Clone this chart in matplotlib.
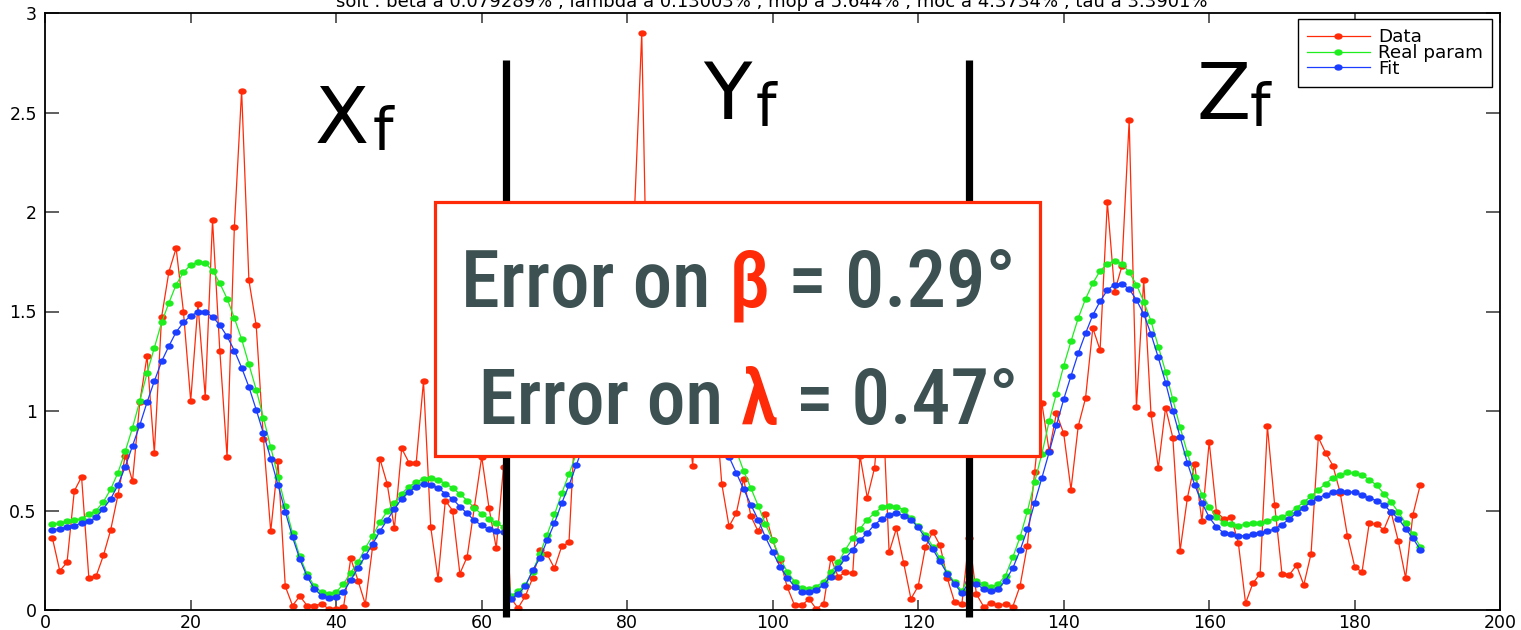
import os
import numpy as np
import matplotlib
matplotlib.use("Agg")
import matplotlib.pyplot as plt
from matplotlib.path import Path
from matplotlib.transforms import Affine2D
from matplotlib.patches import Rectangle
from matplotlib import font_manager
from matplotlib.font_manager import FontProperties

# ---------------------------------------------------------------- data
sample_index = np.arange(1, 190)

data_vals = [
    # X_f block (1-63)
    0.36, 0.197, 0.239, 0.598, 0.669, 0.161, 0.17, 0.274, 0.402, 0.578,
    0.776, 0.647, 1.044, 1.276, 0.79, 1.472, 1.699, 1.818, 1.50, 1.05,
    1.536, 1.07, 1.96, 1.304, 0.768, 1.924, 2.61, 1.657, 1.432, 0.86,
    0.395, 0.748, 0.119, 0.022, 0.07, 0.022, 0.022, 0.03, 0.005, 0.005,
    0.013, 0.259, 0.148, 0.029, 0.316, 0.761, 0.635, 0.41, 0.812, 0.741,
    0.741, 1.15, 0.415, 0.156, 0.55, 0.50, 0.183, 0.267, 0.52, 0.77,
    0.514, 0.311, 0.72,
    # Y_f block (64-126)
    0.06, 0.01, 0.07, 0.16, 0.30, 0.28, 0.21, 0.32, 0.34, 1.05,
    0.95, 1.25, 0.9, 1.45, 1.3, 1.85, 1.35, 2.0, 2.9, 1.0,
    1.6, 1.9, 1.2, 1.75, 1.1, 0.725, 1.4, 0.95, 1.1, 0.634,
    0.42, 0.487, 0.66, 0.472, 0.395, 0.48, 0.35, 0.25, 0.115, 0.024,
    0.024, 0.055, 0.005, 0.032, 0.26, 0.167, 0.189, 0.184, 0.775, 0.564,
    0.714, 1.15, 0.289, 0.41, 0.237, 0.056, 0.12, 0.317, 0.393, 0.325,
    0.16, 0.04, 0.03,
    # Z_f block (127-189)
    0.36, 0.08, 0.017, 0.034, 0.024, 0.029, 0.017, 0.121, 0.324, 0.692,
    1.04, 0.798, 0.988, 0.887, 0.605, 0.924, 1.064, 1.417, 1.306, 2.05,
    1.6, 1.728, 2.46, 1.02, 1.66, 0.986, 0.713, 1.017, 0.866, 0.298,
    0.563, 0.734, 0.445, 0.845, 0.492, 0.459, 0.466, 0.339, 0.034, 0.134,
    0.183, 0.923, 0.528, 0.183, 0.176, 0.225, 0.126, 0.282, 0.867, 0.79,
    0.726, 0.59, 0.373, 0.218, 0.19, 0.437, 0.43, 0.403, 0.492, 0.345,
    0.161, 0.479, 0.627,
]

real_vals = [
    0.43, 0.435, 0.445, 0.452, 0.459, 0.48, 0.50, 0.543, 0.607, 0.69,
    0.797, 0.916, 1.05, 1.19, 1.318, 1.445, 1.543, 1.635, 1.697, 1.734,
    1.748, 1.743, 1.706, 1.642, 1.565, 1.467, 1.361, 1.234, 1.108, 0.966,
    0.818, 0.669, 0.523, 0.387, 0.269, 0.18, 0.12, 0.09, 0.082, 0.09,
    0.131, 0.188, 0.24, 0.311, 0.373, 0.44, 0.496, 0.54, 0.585, 0.62,
    0.643, 0.66, 0.664, 0.655, 0.635, 0.614, 0.583, 0.55, 0.513, 0.481,
    0.459, 0.437, 0.417,
    0.07, 0.095, 0.126, 0.193, 0.282, 0.379, 0.48, 0.586, 0.684, 0.785,
    0.89, 1.0, 1.11, 1.22, 1.33, 1.43, 1.52, 1.6, 1.67, 1.72,
    1.75, 1.75, 1.72, 1.67, 1.59, 1.49, 1.38, 1.26, 1.13, 1.0,
    0.88, 0.80, 0.70, 0.613, 0.524, 0.432, 0.35, 0.261, 0.193, 0.143,
    0.109, 0.104, 0.118, 0.143, 0.19, 0.239, 0.303, 0.361, 0.408, 0.454,
    0.487, 0.516, 0.524, 0.518, 0.504, 0.462, 0.42, 0.378, 0.319, 0.26,
    0.188, 0.14, 0.095,
    0.17, 0.145, 0.13, 0.115, 0.13, 0.173, 0.265, 0.366, 0.495, 0.642,
    0.785, 0.948, 1.087, 1.227, 1.35, 1.467, 1.563, 1.642, 1.704, 1.739,
    1.756, 1.739, 1.697, 1.635, 1.55, 1.452, 1.324, 1.198, 1.059, 0.919,
    0.79, 0.667, 0.58, 0.52, 0.466, 0.437, 0.432, 0.424, 0.43, 0.437,
    0.437, 0.445, 0.46, 0.466, 0.487, 0.513, 0.543, 0.571, 0.605, 0.634,
    0.664, 0.677, 0.691, 0.686, 0.677, 0.655, 0.627, 0.585, 0.543, 0.492,
    0.437, 0.382, 0.319,
]

fit_vals = [
    0.402, 0.408, 0.417, 0.424, 0.437, 0.445, 0.465, 0.509, 0.558, 0.628,
    0.719, 0.825, 0.929, 1.044, 1.15, 1.249, 1.326, 1.397, 1.445, 1.479,
    1.496, 1.496, 1.474, 1.432, 1.375, 1.304, 1.218, 1.121, 1.007, 0.887,
    0.761, 0.628, 0.494, 0.366, 0.255, 0.168, 0.106, 0.072, 0.062, 0.067,
    0.09, 0.15, 0.21, 0.27, 0.331, 0.395, 0.452, 0.507, 0.56, 0.592,
    0.62, 0.635, 0.63, 0.613, 0.585, 0.558, 0.52, 0.485, 0.45, 0.425,
    0.405, 0.395, 0.39,
    0.055, 0.079, 0.12, 0.2, 0.26, 0.35, 0.436, 0.537, 0.627, 0.728,
    0.83, 0.93, 1.03, 1.13, 1.22, 1.30, 1.37, 1.43, 1.47, 1.49,
    1.49, 1.47, 1.43, 1.37, 1.30, 1.21, 1.12, 1.02, 0.93, 0.85,
    0.771, 0.689, 0.608, 0.529, 0.454, 0.366, 0.291, 0.218, 0.163, 0.118,
    0.092, 0.092, 0.10, 0.126, 0.168, 0.21, 0.261, 0.303, 0.35, 0.387,
    0.429, 0.457, 0.479, 0.487, 0.474, 0.454, 0.415, 0.361, 0.306, 0.244,
    0.182, 0.131, 0.084,
    0.14, 0.13, 0.105, 0.095, 0.105, 0.148, 0.21, 0.3, 0.405, 0.538,
    0.664, 0.793, 0.929, 1.059, 1.176, 1.29, 1.39, 1.482, 1.551, 1.608,
    1.635, 1.639, 1.613, 1.558, 1.487, 1.387, 1.269, 1.143, 1.0, 0.869,
    0.739, 0.629, 0.538, 0.466, 0.417, 0.387, 0.382, 0.373, 0.373, 0.382,
    0.388, 0.395, 0.408, 0.429, 0.457, 0.487, 0.514, 0.543, 0.563, 0.58,
    0.592, 0.597, 0.593, 0.593, 0.576, 0.563, 0.55, 0.529, 0.492, 0.459,
    0.408, 0.361, 0.303,
]

series_labels = ["Data", "Real param", "Fit"]
x_ticks = [0, 20, 40, 60, 80, 100, 120, 140, 160, 180, 200]
y_ticks = [0, 0.5, 1, 1.5, 2, 2.5, 3]
y_tick_labels = ["0", "0.5", "1", "1.5", "2", "2.5", "3"]
block_separators = [63.4, 127.0]
block_names = ["X", "Y", "Z"]
title_text = ("soit : beta à 0.079289% , lambda à 0.13003% , mop à 5.644% , "
              "moc à 4.3734% , tau à 3.3901%")
error_lines = [("Error on ", "β", " = 0.29°"), (" Error on ", "λ", " = 0.47°")]

# ---------------------------------------------------------------- style
RED = "#ff2a08"
GREEN = "#1eee1e"
BLUE = "#1a3dff"
TEXT_GRAY = "#3d5152"
W, H = 1521, 630

plt.rcParams["font.family"] = ["DejaVu Sans"]

fig = plt.figure(figsize=(W / 100, H / 100), dpi=100)
ax = fig.add_axes([45.2 / W, 20 / H, 1455 / W, 597 / H])
ax.set_xlim(0, 200)
ax.set_ylim(0, 3)

# slightly wide dots, like a horizontally stretched figure
dot = Path.unit_circle().transformed(Affine2D().scale(1.4, 1.0))

style = dict(lw=0.9, marker=dot, ms=5.0)
h_data, = ax.plot(sample_index, data_vals, color=RED, mfc=RED, mec=RED, zorder=2, **style)
h_real, = ax.plot(sample_index, real_vals, color=GREEN, mfc=GREEN, mec=GREEN, zorder=2.1, **style)
h_fit, = ax.plot(sample_index, fit_vals, color=BLUE, mfc=BLUE, mec=BLUE, zorder=2.2, **style)

# thick separators between the three blocks
for xs in block_separators:
    ax.plot([xs, xs], [-0.035, 2.764], color="black", lw=5.2,
            solid_capstyle="butt", clip_on=False, zorder=4)

ax.set_xticks(x_ticks)
ax.set_yticks(y_ticks)
ax.set_yticklabels(y_tick_labels)
ax.tick_params(axis="both", direction="in", top=True, right=True,
               labelsize=12.5, width=1.1, color="#333333")
ax.tick_params(axis="x", length=7, pad=3)
ax.tick_params(axis="y", length=10, pad=6)
for sp in ax.spines.values():
    sp.set_linewidth(1.3)

leg = ax.legend([h_data, h_real, h_fit], series_labels, loc="upper right",
                bbox_to_anchor=(1492 / W, 1 - 19 / H), bbox_transform=fig.transFigure,
                borderaxespad=0, fancybox=False, edgecolor="black", framealpha=1,
                fontsize=13.2, handlelength=3.4, handletextpad=0.45,
                labelspacing=-0.12, borderpad=0.5)
leg.get_frame().set_linewidth(1.0)
leg.set_zorder(7)

fig.text(772 / W, 1 - 7 / H, title_text, ha="center", va="baseline", fontsize=13)

# block names with subscript f
name_font = ["DejaVu Sans"]
name_pos = [(37.1, 2.347, 45.0, 2.317), (90.4, 2.467, 97.6, 2.437), (158.3, 2.467, 165.5, 2.437)]
for name, (xx, yy, xf, yf) in zip(block_names, name_pos):
    ax.text(xx, yy, name, fontsize=57, family=name_font, va="baseline",
            ha="left", color="black", zorder=6)
    ax.text(xf, yf, "f", fontsize=42, family=name_font, va="baseline",
            ha="left", color="black", zorder=6)

# framed error summary
ax.add_patch(Rectangle((53.58, 0.774), 136.74 - 53.58, 2.048 - 0.774,
                       facecolor="white", edgecolor=RED, lw=2.3, zorder=5))

# pick a condensed face for the summary text
preferred = ["NotoSans-ExtraCondensedSemiBold", "NotoSans-ExtraCondensedMedium",
             "NotoSans-CondensedSemiBold", "NotoSans-CondensedMedium",
             "RobotoCondensed-Medium", "RobotoCondensed-SemiBold",
             "RobotoCondensed-Regular", "RobotoCondensed-Bold",
             "LiberationSansNarrow-Bold", "DejaVuSansCondensed-Bold"]
files = {os.path.splitext(os.path.basename(f.fname))[0]: f.fname
         for f in font_manager.fontManager.ttflist}
box_fp = None
for name in preferred:
    if name in files:
        box_fp = FontProperties(fname=files[name])
        break
if box_fp is None:
    box_fp = FontProperties(family="DejaVu Sans", weight="bold")


def error_line(x0, y0, parts, size):
    fp = box_fp.copy()
    fp.set_size(size)
    pieces = [ax.text(x0, y0, parts[0], fontproperties=fp, color=TEXT_GRAY,
                      va="baseline", ha="left", zorder=6)]
    for txt, col in ((parts[1], RED), (parts[2], TEXT_GRAY)):
        pieces.append(ax.annotate(txt, xy=(1, 0), xycoords=pieces[-1], va="bottom",
                                  ha="left", fontproperties=fp, color=col, zorder=6))
    return pieces


line_specs = [((461 - 45.2) / 7.275, 1.523, 554), ((461 - 45.2) / 7.275, 0.935, 557)]
renderer = fig.canvas.get_renderer()
for parts, (x0, y0, target) in zip(error_lines, line_specs):
    pieces = error_line(x0, y0, parts, 58)
    fig.canvas.draw()
    width = pieces[-1].get_window_extent(renderer).x1 - pieces[0].get_window_extent(renderer).x0
    new_size = 58 * target / width
    for p in pieces:
        p.set_fontsize(new_size)

fig.savefig("out.png", dpi=100)
